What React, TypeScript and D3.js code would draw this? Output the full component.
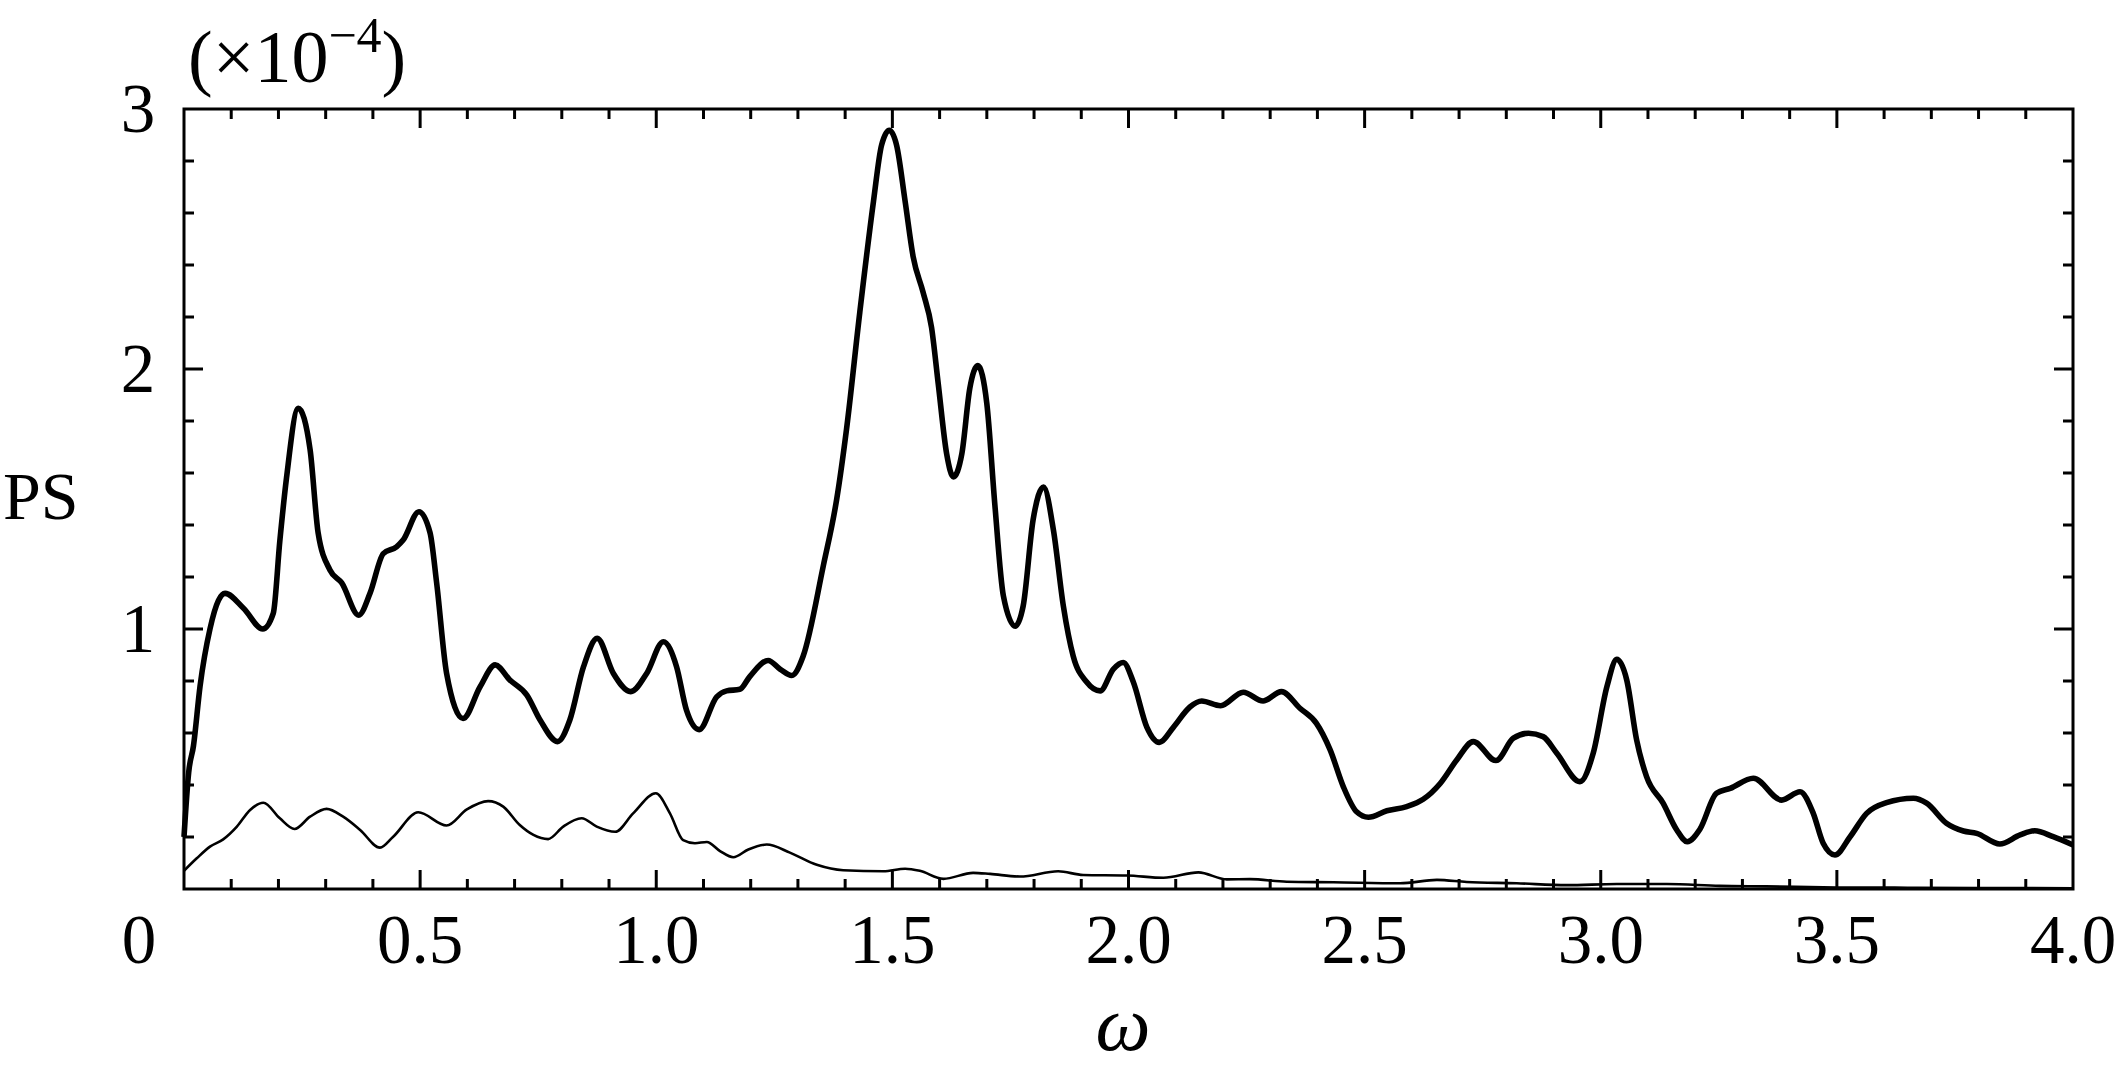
import React from 'react';
import * as d3 from 'd3';

// thick curve: omega and PS (x 1e-4)
const omegaThick = [
  0, 0.01, 0.02, 0.034, 0.055, 0.073, 0.087, 0.126, 0.167, 0.189,
  0.203, 0.217, 0.242, 0.267, 0.284, 0.309, 0.334, 0.37, 0.394, 0.422,
  0.45, 0.464, 0.4975, 0.521, 0.535, 0.556, 0.591, 0.627, 0.659, 0.69,
  0.726, 0.754, 0.791, 0.817, 0.846, 0.875, 0.909, 0.946, 0.98, 1.015,
  1.043, 1.064, 1.091, 1.128, 1.149, 1.177, 1.198, 1.237, 1.262, 1.287,
  1.311, 1.354, 1.382, 1.403, 1.431, 1.46, 1.477, 1.4935, 1.509, 1.527,
  1.544, 1.565, 1.583, 1.597, 1.615, 1.629, 1.647, 1.664, 1.681, 1.70,
  1.717, 1.735, 1.76, 1.777, 1.798, 1.82, 1.841, 1.862, 1.883, 1.911,
  1.94, 1.968, 1.989, 2.01, 2.039, 2.065, 2.095, 2.13, 2.155, 2.195,
  2.243, 2.285, 2.324, 2.363, 2.398, 2.427, 2.455, 2.483, 2.508, 2.547,
  2.589, 2.624, 2.66, 2.695, 2.73, 2.778, 2.815, 2.847, 2.878, 2.907,
  2.956, 2.984, 3.013, 3.034, 3.055, 3.076, 3.097, 3.132, 3.161, 3.183,
  3.21, 3.245, 3.274, 3.323, 3.383, 3.422, 3.45, 3.471, 3.496, 3.528,
  3.563, 3.605, 3.662, 3.69, 3.732, 3.768, 3.796, 3.845, 3.888, 3.919,
  3.958, 4.0,
];
const psThick = [
  0.2, 0.45, 0.55, 0.78, 1.0, 1.11, 1.137, 1.08, 1.0, 1.06,
  1.34, 1.58, 1.849, 1.69, 1.37, 1.227, 1.177, 1.053, 1.138, 1.29,
  1.316, 1.342, 1.451, 1.37, 1.177, 0.83, 0.656, 0.778, 0.862, 0.804,
  0.746, 0.65, 0.567, 0.65, 0.855, 0.964, 0.83, 0.759, 0.83, 0.951,
  0.855, 0.688, 0.613, 0.739, 0.762, 0.768, 0.817, 0.879, 0.846, 0.821,
  0.895, 1.245, 1.498, 1.77, 2.218, 2.645, 2.86, 2.918, 2.86, 2.645,
  2.432, 2.295, 2.159, 1.945, 1.673, 1.585, 1.673, 1.926, 2.013, 1.867,
  1.478, 1.128, 1.011, 1.089, 1.42, 1.546, 1.381, 1.089, 0.895, 0.797,
  0.762, 0.846, 0.871, 0.797, 0.622, 0.564, 0.622, 0.70, 0.723, 0.705,
  0.757, 0.723, 0.759, 0.695, 0.637, 0.535, 0.393, 0.297, 0.276, 0.301,
  0.317, 0.345, 0.406, 0.496, 0.567, 0.494, 0.58, 0.599, 0.586, 0.522,
  0.413, 0.522, 0.778, 0.883, 0.804, 0.573, 0.432, 0.33, 0.227, 0.182,
  0.23, 0.368, 0.387, 0.426, 0.342, 0.374, 0.291, 0.176, 0.131, 0.201,
  0.291, 0.332, 0.349, 0.33, 0.253, 0.223, 0.214, 0.173, 0.208, 0.224,
  0.201, 0.169,
];

// thin curve
const omegaThin = [
  0, 0.027, 0.055, 0.083, 0.112, 0.14, 0.168, 0.203, 0.234, 0.267,
  0.302, 0.337, 0.373, 0.415, 0.443, 0.496, 0.556, 0.599, 0.644, 0.676,
  0.711, 0.74, 0.771, 0.803, 0.842, 0.874, 0.913, 0.951, 0.999, 1.029,
  1.057, 1.082, 1.107, 1.135, 1.163, 1.195, 1.234, 1.283, 1.34, 1.396,
  1.481, 1.527, 1.558, 1.608, 1.671, 1.707, 1.77, 1.851, 1.904, 1.996,
  2.074, 2.148, 2.208, 2.257, 2.335, 2.434, 2.575, 2.653, 2.716, 2.822,
  2.928, 3.034, 3.14, 3.252, 3.35, 3.5, 3.65, 3.8, 4.0,
];
const psThin = [
  0.07, 0.118, 0.163, 0.191, 0.24, 0.304, 0.332, 0.272, 0.231, 0.278,
  0.308, 0.278, 0.227, 0.159, 0.201, 0.295, 0.244, 0.306, 0.338, 0.317,
  0.246, 0.208, 0.192, 0.24, 0.272, 0.24, 0.22, 0.291, 0.368, 0.291,
  0.188, 0.176, 0.181, 0.146, 0.122, 0.152, 0.171, 0.14, 0.093, 0.072,
  0.068, 0.078, 0.07, 0.039, 0.062, 0.058, 0.048, 0.068, 0.054, 0.052,
  0.043, 0.064, 0.037, 0.038, 0.028, 0.026, 0.022, 0.035, 0.027, 0.022,
  0.015, 0.019, 0.019, 0.012, 0.01, 0.006, 0.005, 0.004, 0.003,
];

const xTickLabels = ['0.5', '1.0', '1.5', '2.0', '2.5', '3.0', '3.5', '4.0'];
const yTickLabels = ['1', '2', '3'];

const W = 2115;
const H = 1072;
const FONT = '"Liberation Serif", "Times New Roman", serif';

export default function App() {
  const x = d3.scaleLinear().domain([0, 4]).range([184, 2073]);
  const y = d3.scaleLinear().domain([0, 3]).range([889, 109]);

  // monotone curve keeps read-off peaks where they are
  const makePath = (ws: number[], vs: number[]) =>
    d3.line<[number, number]>()
      .x((d) => x(d[0]))
      .y((d) => y(d[1]))
      .curve(d3.curveMonotoneX)(ws.map((w, i) => [w, vs[i]])) || '';

  const thickPath = makePath(omegaThick, psThick);
  const thinPath = makePath(omegaThin, psThin);

  const xMinor = d3.range(1, 40).map((i) => i / 10);
  const yMinor = d3.range(1, 15).map((i) => i / 5);

  const [x0, x1] = x.range();
  const [y0, y1] = y.range();

  return (
    <svg width={W} height={H} style={{ position: 'absolute', left: 0, top: 0, background: '#fff' }}
      fontFamily={FONT}>
      <path d={thinPath} fill="none" stroke="#000" strokeWidth={2.6} />
      <path d={thickPath} fill="none" stroke="#000" strokeWidth={5.6} strokeLinejoin="round" />

      {/* ticks on x, top and bottom, inward */}
      {xMinor.map((t) => {
        const major = Math.abs(t * 2 - Math.round(t * 2)) < 1e-6;
        const len = major ? 19 : 10;
        return (
          <g key={'xt' + t}>
            <line x1={x(t)} x2={x(t)} y1={y0} y2={y0 - len} stroke="#000" strokeWidth={3} />
            <line x1={x(t)} x2={x(t)} y1={y1} y2={y1 + len} stroke="#000" strokeWidth={3} />
          </g>
        );
      })}
      {yMinor.map((t) => {
        const major = Math.abs(t - Math.round(t)) < 1e-6;
        const len = major ? 19 : 10;
        return (
          <g key={'yt' + t}>
            <line x1={x0} x2={x0 + len} y1={y(t)} y2={y(t)} stroke="#000" strokeWidth={3} />
            <line x1={x1} x2={x1 - len} y1={y(t)} y2={y(t)} stroke="#000" strokeWidth={3} />
          </g>
        );
      })}

      <rect x={x0} y={y1} width={x1 - x0} height={y0 - y1} fill="none" stroke="#000" strokeWidth={3} />

      {/* tick labels */}
      {xTickLabels.map((s) => (
        <text key={'xl' + s} x={x(+s)} y={963} fontSize={69} textAnchor="middle">{s}</text>
      ))}
      <text x={139} y={963} fontSize={69} textAnchor="middle">0</text>
      {yTickLabels.map((s) => (
        <text key={'yl' + s} x={138} y={y(+s) + 23} fontSize={69} textAnchor="middle">{s}</text>
      ))}

      <text x={188} y={82} fontSize={74}>
        (×10<tspan fontSize={50} dy={-30}>−4</tspan><tspan dy={30}>)</tspan>
      </text>

      <text x={3} y={519} fontSize={68}>PS</text>
      <text x={1123} y={1050} fontSize={78} fontStyle="italic" textAnchor="middle">ω</text>
    </svg>
  );
}
